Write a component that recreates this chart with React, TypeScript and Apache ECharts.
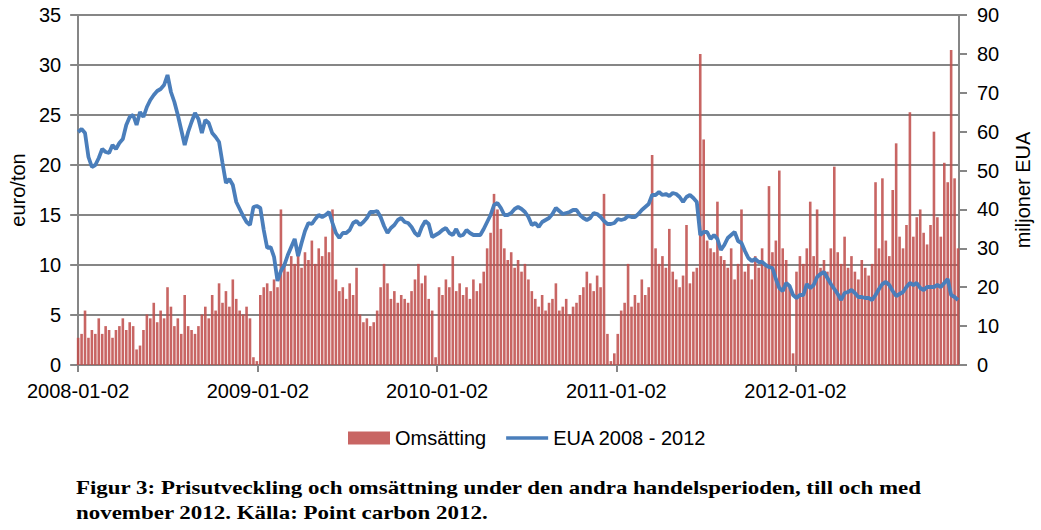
import React, { useEffect, useRef } from 'react';
import * as echarts from 'echarts';

// x positions are day offsets from 2008-01-02; one sample per week
const TICK_DAYS = [0, 366, 731, 1096, 1461];
const TICK_LABELS = ['2008-01-02', '2009-01-02', '2010-01-02', '2011-01-02', '2012-01-02'];
const LAST_DAY = 1794;
const SAMPLE_STEP_DAYS = 7;

// EUA price, euro/ton (weekly readings)
const PRICE_2008 = [23.3, 23.6, 23.2, 20.8, 19.8, 20.0, 20.7, 21.6, 21.3, 21.2, 22.0, 21.6, 22.2, 22.6, 24.0, 24.8, 25.0, 24.0, 25.3, 24.8, 25.8, 26.5, 27.0, 27.4, 27.6, 28.0, 29.0, 27.3, 26.3, 25.0, 23.5, 22.0, 23.3, 24.3, 25.2, 24.6, 23.2, 24.5, 24.2, 23.2, 22.8, 22.3, 20.2, 18.2, 18.6, 18.0, 16.3, 15.6, 14.9, 14.3, 14.0, 15.8, 15.9];
const PRICE_2009 = [15.7, 13.5, 11.7, 11.8, 10.8, 8.4, 9.4, 10.0, 11.0, 11.8, 12.6, 10.9, 12.2, 13.4, 14.2, 14.1, 14.6, 15.0, 14.8, 15.0, 15.3, 14.2, 13.2, 12.7, 13.2, 13.2, 13.5, 14.2, 14.4, 14.0, 14.3, 14.7, 15.3, 15.3, 15.4, 14.8, 13.9, 13.2, 13.7, 14.0, 14.5, 14.7, 14.3, 14.2, 13.8, 13.2, 12.9, 13.8, 14.4, 14.1, 12.8, 13.0];
const PRICE_2010 = [13.2, 13.5, 13.7, 13.2, 13.0, 13.6, 12.9, 13.0, 13.5, 13.2, 13.0, 13.0, 13.0, 13.6, 14.3, 15.0, 16.0, 16.2, 15.7, 15.0, 15.0, 15.2, 15.6, 15.8, 15.6, 15.3, 14.8, 14.0, 14.2, 13.8, 14.3, 14.5, 14.7, 15.1, 15.7, 15.4, 15.1, 15.2, 15.3, 15.5, 15.5, 15.0, 14.7, 14.5, 14.7, 15.2, 15.1, 14.8, 14.4, 14.1, 14.1, 14.2];
const PRICE_2011 = [14.6, 14.5, 14.6, 14.9, 14.8, 14.8, 15.1, 15.5, 15.8, 16.1, 17.0, 17.0, 17.3, 17.0, 17.1, 16.9, 17.2, 17.1, 16.8, 16.3, 16.8, 17.0, 16.7, 16.3, 13.0, 13.3, 13.3, 12.6, 13.0, 12.6, 11.5, 12.0, 12.7, 13.0, 13.3, 12.4, 12.2, 11.4, 10.7, 10.4, 10.6, 10.3, 10.3, 10.0, 9.8, 9.7, 8.6, 7.7, 7.4, 8.2, 7.9, 7.0];
const PRICE_2012 = [6.7, 7.0, 7.0, 8.1, 7.7, 8.0, 8.8, 9.1, 9.3, 8.7, 8.1, 7.6, 7.1, 6.5, 7.2, 7.3, 7.5, 7.2, 6.8, 6.8, 6.7, 6.7, 6.5, 7.0, 7.6, 8.1, 8.3, 8.0, 7.4, 6.9, 7.1, 7.3, 7.8, 8.2, 8.0, 8.2, 7.7, 7.5, 7.8, 7.8, 7.8, 8.0, 7.8, 8.2, 8.6, 7.0, 6.8, 6.5];

// Turnover, million EUA (weekly readings)
const VOL_2008 = [7, 8, 14, 7, 9, 8, 12, 8, 10, 9, 7, 9, 10, 12, 9, 11, 10, 4, 5, 9, 13, 12, 16, 11, 14, 12, 20, 15, 10, 12, 8, 18, 10, 9, 8, 10, 13, 15, 12, 18, 14, 21, 16, 19, 15, 22, 17, 14, 13, 15, 12, 2, 1];
const VOL_2009 = [18, 20, 21, 19, 22, 20, 40, 26, 24, 28, 26, 30, 25, 29, 27, 32, 26, 30, 28, 33, 29, 40, 22, 19, 20, 17, 21, 18, 25, 13, 11, 12, 10, 11, 14, 20, 26, 21, 17, 19, 16, 18, 17, 16, 19, 22, 26, 21, 23, 17, 14, 2];
const VOL_2010 = [20, 18, 22, 20, 28, 19, 21, 18, 20, 17, 22, 19, 21, 24, 30, 34, 44, 40, 35, 30, 27, 29, 25, 27, 24, 26, 22, 19, 17, 15, 18, 14, 16, 17, 21, 14, 15, 17, 13, 15, 16, 18, 20, 24, 21, 19, 23, 20, 44, 8, 1, 3];
const VOL_2011 = [8, 14, 16, 26, 15, 18, 16, 22, 18, 20, 54, 30, 26, 28, 25, 35, 24, 22, 20, 23, 36, 21, 24, 25, 80, 58, 32, 30, 29, 42, 28, 27, 25, 30, 22, 26, 40, 24, 26, 22, 28, 25, 30, 26, 46, 29, 32, 50, 30, 27, 20, 3];
const VOL_2012 = [24, 28, 26, 30, 42, 28, 40, 25, 27, 24, 30, 51, 29, 26, 33, 25, 28, 24, 22, 27, 25, 23, 26, 47, 30, 48, 32, 28, 45, 57, 33, 30, 36, 65, 33, 38, 40, 34, 31, 36, 60, 38, 33, 52, 47, 81, 48, 30];

const SERIES_BAR_NAME = 'Omsätting';
const SERIES_LINE_NAME = 'EUA 2008 - 2012';
const CAPTION_1 = 'Figur 3: Prisutveckling och omsättning under den andra handelsperioden, till och med';
const CAPTION_2 = 'november 2012. Källa: Point carbon 2012.';

const PRICE = [...PRICE_2008, ...PRICE_2009, ...PRICE_2010, ...PRICE_2011, ...PRICE_2012];
const VOLUME = [...VOL_2008, ...VOL_2009, ...VOL_2010, ...VOL_2011, ...VOL_2012];

const GRAY = '#868686';
const RED = '#C0504D';
const BLUE = '#4A7EBB';
const SANS = '"Liberation Sans", Arial, sans-serif';

function measure(text: string, font: string): number {
  const c = document.createElement('canvas');
  const ctx = c.getContext('2d');
  if (!ctx) return 0;
  ctx.font = font;
  return ctx.measureText(text).width;
}

export default function App() {
  const ref = useRef<HTMLDivElement>(null);
  useEffect(() => {
    if (!ref.current) return;
    const chart = echarts.init(ref.current, null, { renderer: 'svg' });
    const capFont = 'bold 18px "Liberation Serif"';
    const w1 = measure(CAPTION_1, capFont) || 800;
    const capScale = 846 / w1;

    const priceData = PRICE.map((v, i) => [i * SAMPLE_STEP_DAYS, v]);
    const volData = VOLUME.map((v, i) => [i * SAMPLE_STEP_DAYS, v]);

    chart.setOption({
      animation: false,
      textStyle: { fontFamily: SANS },
      grid: { left: 76, right: 75, top: 15, bottom: 165 },
      legend: {
        left: 343,
        top: 423,
        itemWidth: 42,
        itemHeight: 13,
        itemGap: 20,
        textStyle: { fontSize: 20, color: '#000', fontFamily: SANS },
        data: [
          { name: SERIES_BAR_NAME, icon: 'rect' },
          { name: SERIES_LINE_NAME, icon: 'path://M0,0L42,0L42,3.6L0,3.6Z' },
        ],
      },
      xAxis: {
        type: 'value',
        min: 0,
        max: LAST_DAY,
        axisLine: { show: true, lineStyle: { color: GRAY, width: 2 } },
        axisTick: { show: true, length: 7, customValues: TICK_DAYS, lineStyle: { color: GRAY, width: 2 } },
        axisLabel: {
          customValues: TICK_DAYS,
          formatter: (v: number) => {
            const k = TICK_DAYS.indexOf(v);
            return k >= 0 ? TICK_LABELS[k] : '';
          },
          fontSize: 20,
          color: '#000',
          margin: 16,
        },
        splitLine: { show: false },
      },
      yAxis: [
        {
          type: 'value',
          min: 0,
          max: 35,
          interval: 5,
          position: 'left',
          name: 'euro/ton',
          nameLocation: 'middle',
          nameRotate: 90,
          nameGap: 48,
          nameTextStyle: { fontSize: 20, color: '#000' },
          axisLine: { show: true, lineStyle: { color: GRAY, width: 2 } },
          axisTick: { show: true, length: 8, lineStyle: { color: GRAY, width: 2 } },
          axisLabel: { fontSize: 20, color: '#000', margin: 17 },
          splitLine: { show: true, lineStyle: { color: GRAY, width: 2 } },
        },
        {
          type: 'value',
          min: 0,
          max: 90,
          interval: 10,
          position: 'right',
          name: 'miljoner EUA',
          nameLocation: 'middle',
          nameRotate: 90,
          nameGap: 54,
          nameTextStyle: { fontSize: 20, color: '#000' },
          axisLine: { show: true, lineStyle: { color: GRAY, width: 2 } },
          axisTick: { show: true, length: 8, lineStyle: { color: GRAY, width: 2 } },
          axisLabel: { fontSize: 20, color: '#000', margin: 18 },
          splitLine: { show: false },
        },
      ],
      series: [
        {
          type: 'bar',
          name: SERIES_BAR_NAME,
          yAxisIndex: 1,
          data: volData,
          barWidth: 2.6,
          itemStyle: { color: RED, opacity: 0.88 },
        },
        {
          type: 'line',
          name: SERIES_LINE_NAME,
          yAxisIndex: 0,
          data: priceData,
          symbol: 'none',
          lineStyle: { color: BLUE, width: 3.8 },
          itemStyle: { color: BLUE },
        },
      ],
      graphic: [
        {
          type: 'text',
          x: 76,
          y: 479,
          scaleX: capScale,
          style: { text: CAPTION_1, font: capFont, fill: '#000', verticalAlign: 'top', align: 'left' },
        },
        {
          type: 'text',
          x: 76,
          y: 504,
          scaleX: capScale,
          style: { text: CAPTION_2, font: capFont, fill: '#000', verticalAlign: 'top', align: 'left' },
        },
      ],
    });
    return () => chart.dispose();
  }, []);
  return <div ref={ref} style={{ position: 'absolute', left: 0, top: 0, width: 1041, height: 530 }} />;
}
